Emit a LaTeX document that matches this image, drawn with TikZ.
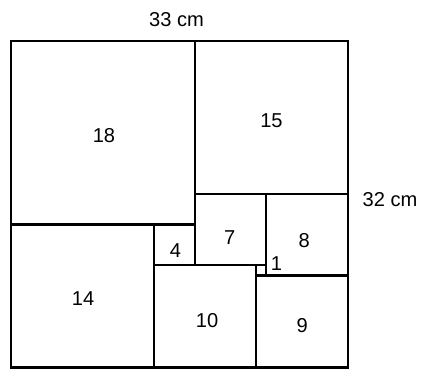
\documentclass[tikz,border=0pt]{standalone}
\usepackage{fontspec}
\setmainfont{Liberation Sans}
\usepackage{tikz}

\begin{document}
\begin{tikzpicture}[
        x=0.25cm, y=0.25cm,
        tile/.style={draw, line width=1.5pt},
        num/.style={font=\fontsize{14}{16}\selectfont, inner sep=0pt},
        dim/.style={font=\fontsize{14}{16}\selectfont, inner sep=0pt}
      ]
      \useasboundingbox (-1.08,-0.55) rectangle (40.14,35.98);

      % squares: lower left corner and side
      \foreach \x/\y/\s in {0/14/18, 18/17/15, 0/0/14, 14/10/4, 18/10/7,
                            25/9/8, 24/9/1, 14/0/10, 24/0/9}
        \draw [tile] (\x,\y) rectangle ++(\s,\s);

      % outer frame
      \draw [tile] (0,0) rectangle (33,32);

      % side numbers
      \node (n18) [num] at (9.1,22.7) {18};
      \node (n15) [num] at (25.5,24.2) {15};
      \node (n14) [num] at (7.05,6.7) {14};
      \node (n4)  [num] at (16.1,11.45) {4};
      \node (n7)  [num] at (21.4,12.7) {7};
      \node (n8)  [num] at (28.7,12.4) {8};
      \node (n1)  [num] at (26,10.2) {1};
      \node (n10) [num] at (19.2,4.6) {10};
      \node (n9)  [num] at (28.5,4.1) {9};

      % dimensions
      \node (width)  [dim] at (16.2,34.05) {33 cm};
      \node (height) [dim, anchor=west] at (34.4,16.45) {32 cm};

    \end{tikzpicture}
\end{document}
